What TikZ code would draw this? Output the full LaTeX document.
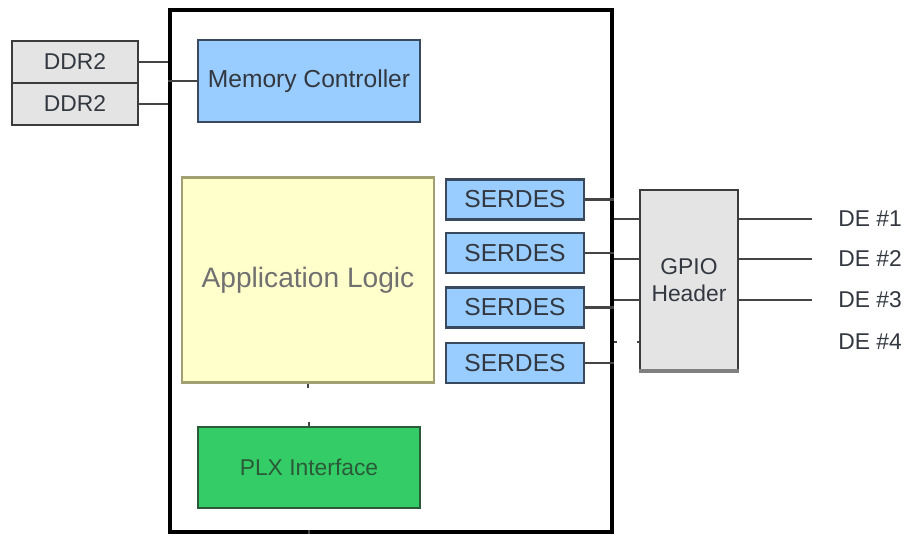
\documentclass[tikz,border=0pt]{standalone}
\usepackage{fontspec}
\setmainfont{Liberation Sans}
\usetikzlibrary{positioning,calc}
\definecolor{ddrgray}{HTML}{E4E4E4}
\definecolor{edgegray}{HTML}{3C3C3C}
\definecolor{memblue}{HTML}{99CCFF}
\definecolor{blueedge}{HTML}{3A4A5E}
\definecolor{applyellow}{HTML}{FFFFCC}
\definecolor{yellowedge}{HTML}{A0A070}
\definecolor{plxgreen}{HTML}{33CC66}
\definecolor{greenedge}{HTML}{2A5A38}
\definecolor{wiregray}{HTML}{444444}
\definecolor{txtdark}{HTML}{333840}
\definecolor{txtlight}{HTML}{707070}
\tikzset{
  box/.style={draw=#1,line width=1.2pt,inner sep=0pt},
  wire/.style={draw=wiregray,line width=1.2pt},
  lbl/.style={font=\fontsize{#1}{#1}\selectfont}
}
\begin{document}
\begin{tikzpicture}[x=0.02cm,y=-0.02cm]
\useasboundingbox (0,0) rectangle (910,536);
\node[draw,line width=2.6pt,minimum width=8.84cm,minimum height=10.44cm] (fpga) at (391,271) {};
\node[box=edgegray,fill=ddrgray,minimum width=2.52cm,minimum height=0.84cm,lbl=13,text=txtdark] (ddra) at (75,62) {DDR2};
\node[box=edgegray,fill=ddrgray,minimum width=2.52cm,minimum height=0.84cm,lbl=13,text=txtdark] (ddrb) at (75,104) {DDR2};
\node[box=blueedge,fill=memblue,minimum width=4.44cm,minimum height=1.64cm,lbl=14,text=txtdark] (memctl) at (309,81) {Memory Controller};
\node[box=yellowedge,fill=applyellow,minimum width=5.04cm,minimum height=4.1cm,lbl=16,text=txtlight] (applogic) at (308,280) {Application Logic};
\foreach \i/\y in {1/199.5,2/253,3/307.5,4/363}
  \node[box=blueedge,fill=memblue,minimum width=2.76cm,minimum height=0.8cm,lbl=14,text=txtdark] (serdes\i) at (515,\y) {SERDES};
\node[box=edgegray,fill=ddrgray,minimum width=1.96cm,minimum height=3.6cm,lbl=13,text=txtdark,align=center] (gpio) at (689,280) {GPIO\\[2pt]Header};
\draw[line width=2.2pt,gray] (gpio.south west) -- (gpio.south east);
\node[box=greenedge,fill=plxgreen,minimum width=4.44cm,minimum height=1.62cm,lbl=13,text=greenedge] (plx) at (309,467.5) {PLX Interface};
\foreach \i/\y/\t in {1/219/1,2/259/2,3/300/3,4/342/4}{
  \node[lbl=13,text=txtdark,anchor=west,inner sep=0pt] (de\i) at (838,\y) {DE \#\t};
  \coordinate (p\i) at (640,\y);
}
\draw[wire] (ddra.east) -- (ddra.east -| fpga.west);
\draw[wire] (ddrb.east) -- (ddrb.east -| fpga.west);
\draw[wire] (memctl.west -| fpga.west) -- (memctl.west);
\foreach \i in {1,...,4}
  \draw[wire] (serdes\i.east) -- (serdes\i.east -| fpga.east);
\foreach \i in {1,2,3}{
  \draw[wire] (p\i -| fpga.east) -- (p\i);
  \draw[wire] (p\i -| gpio.east) -- ([xshift=-0.52cm]de\i.west);
}
\draw[wire] (p4 -| fpga.east) -- ++(3,0);
\draw[wire] (p4) -- ++(-3,0);
\draw[wire] (applogic.south) -- ++(0,4);
\draw[wire] (plx.north) -- ++(0,-4);
\draw[wire] (plx.south |- fpga.south) -- ++(0,-4);
\end{tikzpicture}
\end{document}
